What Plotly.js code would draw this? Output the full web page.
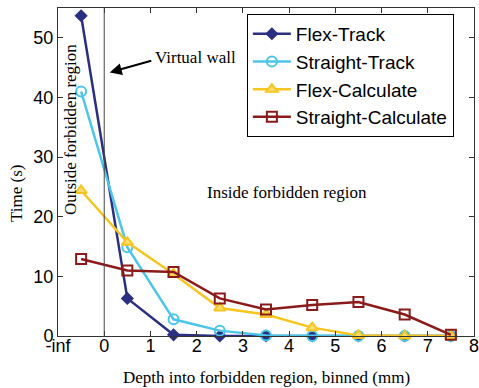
<!DOCTYPE html>
<html>
<head>
<meta charset="utf-8">
<script src="https://cdn.plot.ly/plotly-3.0.1.min.js"></script>
<style>html,body{margin:0;padding:0;background:#fff}#chart{width:479px;height:388px}</style>
</head>
<body>
<div id="chart"></div>
<script>
const depth = [-0.5, 0.5, 1.5, 2.5, 3.5, 4.5, 5.5, 6.5, 7.5];
const tickVals = [-1, 0, 1, 2, 3, 4, 5, 6, 7, 8];
const tickText = ['-inf', '0', '1', '2', '3', '4', '5', '6', '7', '8'];
const yTickVals = [0, 10, 20, 30, 40, 50];
const flexTrack = [53.7, 6.3, 0.2, 0, 0, 0, 0, 0, 0];
const straightTrack = [41, 14.9, 2.8, 0.9, 0.1, 0, 0, 0, 0];
const flexCalculate = [24.4, 15.7, 10.4, 4.7, 3.6, 1.4, 0.1, 0, 0];
const straightCalculate = [12.9, 11.0, 10.75, 6.3, 4.45, 5.2, 5.7, 3.6, 0.2];

const traces = [
  {name: 'Flex-Track', y: flexTrack, color: '#2b2f82', fill: '#2b2f82', symbol: 'diamond', size: 8},
  {name: 'Straight-Track', y: straightTrack, color: '#4cc6e8', fill: null, symbol: 'circle-open', size: 10},
  {name: 'Flex-Calculate', y: flexCalculate, color: '#f6c51f', fill: '#f9dc6e', symbol: 'triangle-up', size: 10},
  {name: 'Straight-Calculate', y: straightCalculate, color: '#8b1a1a', fill: null, symbol: 'square-open', size: 10}
].map(s => ({
  x: depth, y: s.y, name: s.name, type: 'scatter', mode: 'lines+markers', cliponaxis: false,
  line: {color: s.color, width: 2.5},
  marker: {color: s.fill || s.color, symbol: s.symbol, size: s.size, line: {color: s.color, width: 2}}
}));

const serif = 'Liberation Serif, Times New Roman, serif';
const sans = 'Liberation Sans, Arial, sans-serif';

const layout = {
  width: 479, height: 388,
  margin: {l: 58, r: 5, t: 8, b: 52},
  paper_bgcolor: '#fff', plot_bgcolor: '#fff',
  showlegend: true,
  legend: {x: 0.454, y: 0.982, xanchor: 'left', yanchor: 'top',
    bordercolor: '#000', borderwidth: 1, bgcolor: '#fff', itemwidth: 38,
    font: {family: sans, size: 19, color: '#000'}, tracegroupgap: 0},
  xaxis: {range: [-1, 8], tickvals: tickVals, ticktext: tickText,
    ticks: 'inside', ticklen: 5, tickcolor: '#333', mirror: 'ticks', showline: true, linecolor: '#333', linewidth: 1,
    showgrid: false, zeroline: false, ticklabeloverflow: 'allow', ticklabelstandoff: -7,
    tickfont: {family: sans, size: 18, color: '#000'}},
  yaxis: {range: [0, 55], tickvals: yTickVals,
    ticks: 'inside', ticklen: 5, tickcolor: '#333', mirror: 'ticks', showline: true, linecolor: '#333', linewidth: 1,
    showgrid: false, zeroline: false,
    tickfont: {family: sans, size: 18, color: '#000'}},
  shapes: [{type: 'line', xref: 'x', yref: 'paper', x0: 0, x1: 0, y0: 0, y1: 1, line: {color: '#444', width: 1}}],
  annotations: [
    {xref: 'paper', yref: 'paper', x: 0.5, y: -0.128, xanchor: 'center', yanchor: 'middle',
     text: 'Depth into forbidden region, binned (mm)', showarrow: false, font: {family: serif, size: 17, color: '#000'}},
    {xref: 'paper', yref: 'paper', x: -0.0986, y: 0.436, xanchor: 'center', yanchor: 'middle', textangle: -90,
     text: 'Time (s)', showarrow: false, font: {family: serif, size: 17, color: '#000'}},
    {xref: 'paper', yref: 'paper', x: 0.029, y: 0.628, xanchor: 'center', yanchor: 'middle', textangle: -90,
     text: 'Outside forbidden region', showarrow: false, font: {family: serif, size: 17, color: '#000'}},
    {xref: 'paper', yref: 'paper', x: 0.55, y: 0.436, xanchor: 'center', yanchor: 'middle',
     text: 'Inside forbidden region', showarrow: false, font: {family: serif, size: 17, color: '#000'}},
    {xref: 'x', yref: 'y', x: 0.12, y: 44.2, ax: 43, ay: -12, axref: 'pixel', ayref: 'pixel',
     text: '', showarrow: true, arrowhead: 2, arrowsize: 1.2, arrowwidth: 2, arrowcolor: '#000'},
    {xref: 'paper', yref: 'paper', x: 0.228, y: 0.848, xanchor: 'left', yanchor: 'middle',
     text: 'Virtual wall', showarrow: false, font: {family: serif, size: 17, color: '#000'}}
  ]
};

Plotly.newPlot('chart', traces, layout, {displayModeBar: false, staticPlot: true});
</script>
</body>
</html>
